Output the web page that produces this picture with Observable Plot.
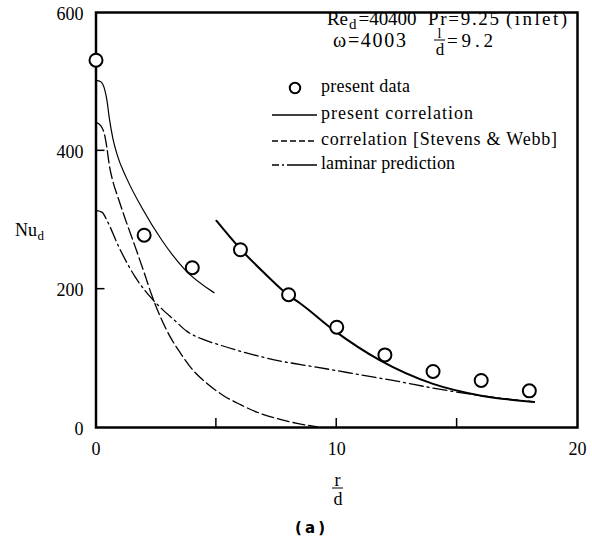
<!DOCTYPE html>
<html>
<head>
<meta charset="utf-8">
<script src="https://cdn.jsdelivr.net/npm/d3@7"></script>
<script src="https://cdn.jsdelivr.net/npm/@observablehq/plot@0.6"></script>
<style>
  body { margin: 0; background: #fff; }
</style>
</head>
<body>
<div id="chart"></div>
<script>
// Measured Nusselt number against radial distance r/d
const dataR  = [0, 2, 4, 6, 8, 10, 12, 14, 16, 18];
const dataNu = [531, 278, 231, 257, 192, 145, 105, 81, 68, 53];

// Present correlation, near-stagnation branch
const corrNearR  = [0, 0.2, 0.35, 0.45, 0.55, 0.7, 0.9, 1.25, 1.9, 2.75, 3.7, 4.9];
const corrNearNu = [502, 500, 490, 474, 448, 418, 392, 362, 318, 270, 228, 195];

// Present correlation, wall-jet branch
const corrFarR  = [5.0, 6, 7, 8, 8.5, 9.9, 11.8, 14, 16, 18.2];
const corrFarNu = [299, 258, 223, 191, 179, 140, 97, 63, 46, 37];

// Correlation of Stevens & Webb
const swR  = [0, 0.2, 0.35, 0.45, 0.55, 0.7, 0.9, 1.2, 1.6, 2.0, 2.33, 2.7, 3.1, 3.5, 4.0, 4.6, 5.3, 6.0, 6.7, 7.5, 8.35, 9.2];
const swNu = [441, 436, 424, 405, 380, 356, 334, 303, 264, 224, 190, 158, 130, 108, 84, 64, 46, 33, 22, 13, 6, 1];

// Laminar prediction
const lamR  = [0, 0.26, 0.46, 0.95, 1.64, 2.33, 2.81, 3.2, 3.78, 4.4, 5.17, 6.55, 7.66, 8.5, 9.7, 11, 12.5, 14, 16, 18.2];
const lamNu = [314, 311, 299, 261, 217, 186, 169, 157, 139, 128, 119, 105, 96, 91, 84, 76, 67, 57, 46, 37];

const xTickLabels = [0, 10, 20];
const yTickLabels = [0, 200, 400, 600];
const xInnerTicks = [5, 10, 15];
const yInnerTicks = [200, 400];

const legendLabels = ["present data", "present correlation", "correlation [Stevens & Webb]", "laminar prediction"];

const serif = "'Liberation Serif', 'Times New Roman', serif";
const dashed = "12,4";
const dashDot = "14,4,2,4";

// Plot geometry
const W = 592, H = 538;
const M = {left: 95.5, right: 15, top: 12, bottom: 111};
const xDomain = [0, 20], yDomain = [0, 600];
const tickPx = 9;

const rows = (xs, ys) => xs.map((r, i) => ({r, nu: ys[i]}));

// Header, legend, inward ticks and axis titles (subscripts and stacked fractions)
function annotations() {
  const sx = d3.scaleLinear(xDomain, [M.left, W - M.right]);
  const sy = d3.scaleLinear(yDomain, [H - M.bottom, M.top]);
  const g = d3.create("svg:g").attr("font-family", serif).attr("fill", "black")
    .attr("font-size", 18).attr("text-anchor", "start");
  const seg = (x1, y1, x2, y2, w = 1) =>
    g.append("line").attr("x1", x1).attr("y1", y1).attr("x2", x2).attr("y2", y2)
      .attr("stroke", "black").attr("stroke-width", w);
  const put = (txt, x, y, opts = {}) => {
    const t = g.append("text").attr("x", x).attr("y", y).text(txt);
    if (opts.size) t.attr("font-size", opts.size);
    if (opts.len) t.attr("textLength", opts.len).attr("lengthAdjust", "spacing");
    if (opts.anchor) t.attr("text-anchor", opts.anchor);
    return t;
  };

  // inward ticks
  for (const t of xInnerTicks) seg(sx(t), sy(yDomain[0]), sx(t), sy(yDomain[0]) - tickPx, 1.5);
  for (const t of yInnerTicks) seg(sx(xDomain[0]), sy(t), sx(xDomain[0]) + tickPx, sy(t), 1.5);

  // parameters
  put("Re", 327, 25, {size: 19, len: 21});
  put("d", 349, 28.5, {size: 15});
  put("=40400", 358.5, 25, {size: 19, len: 58});
  put("Pr=9.25", 428, 25, {size: 19, len: 71});
  put("(inlet)", 506, 25, {size: 19, len: 61});
  put("\u03c9=4003", 333, 47, {size: 20, len: 73});
  put("l", 439.5, 38, {size: 14, anchor: "middle"});
  seg(434, 40, 445, 40);
  put("d", 440, 55, {size: 17, anchor: "middle"});
  put("=9.2", 447, 47, {size: 19, len: 46});

  // legend
  const lineY = [88, 115, 141, 165];
  const textLen = [89, 152, 236, 134];
  g.append("circle").attr("cx", 295).attr("cy", lineY[0]).attr("r", 5.2)
    .attr("fill", "white").attr("stroke", "black").attr("stroke-width", 2);
  const samples = [null, {w: 1.3, dash: null}, {w: 1.3, dash: "6,3"}, {w: 1.3, dash: "7,3,2,3,30"}];
  legendLabels.forEach((label, i) => {
    if (samples[i]) {
      const l = seg(272, lineY[i], 317, lineY[i], samples[i].w);
      if (samples[i].dash) l.attr("stroke-dasharray", samples[i].dash);
    }
    put(label, 321, lineY[i] + 4, {len: textLen[i]});
  });

  // y-axis title
  put("Nu", 15, 236);
  put("d", 37.5, 240, {size: 13});

  // x-axis title r/d
  put("r", 337.5, 486, {anchor: "middle"});
  seg(332, 488, 343, 488);
  put("d", 338, 505, {anchor: "middle"});

  // panel tag
  g.append("text").attr("x", 310).attr("y", 533).attr("text-anchor", "middle")
    .attr("font-family", "'DejaVu Sans', sans-serif").attr("font-weight", "bold").attr("font-size", 15)
    .attr("textLength", 30).attr("lengthAdjust", "spacing").text("(a)");
  return g.node();
}

const chart = Plot.plot({
  width: W,
  height: H,
  marginLeft: M.left,
  marginRight: M.right,
  marginTop: M.top,
  marginBottom: M.bottom,
  style: {fontFamily: serif, fontSize: "18px", color: "black", background: "white", overflow: "visible"},
  x: {domain: xDomain},
  y: {domain: yDomain},
  marks: [
    Plot.axisX({ticks: xTickLabels, tickSize: 0, tickPadding: 15, label: null}),
    Plot.axisY({ticks: yTickLabels, tickSize: 0, tickPadding: 12.5, label: null, dy: 1.5}),
    Plot.line(rows(swR, swNu), {x: "r", y: "nu", stroke: "black", strokeWidth: 1.3, strokeDasharray: dashed, curve: "monotone-x"}),
    Plot.line(rows(lamR, lamNu), {x: "r", y: "nu", stroke: "black", strokeWidth: 1.3, strokeDasharray: dashDot, curve: "monotone-x"}),
    Plot.line(rows(corrNearR, corrNearNu), {x: "r", y: "nu", stroke: "black", strokeWidth: 1.2, curve: "monotone-x"}),
    Plot.line(rows(corrFarR, corrFarNu), {x: "r", y: "nu", stroke: "black", strokeWidth: 2, curve: "monotone-x"}),
    Plot.frame({stroke: "black", strokeWidth: 2.5}),
    Plot.dot(rows(dataR, dataNu), {x: "r", y: "nu", r: 6.5, stroke: "black", strokeWidth: 2, fill: "white"}),
    annotations
  ]
});

document.getElementById("chart").appendChild(chart);
</script>
</body>
</html>
